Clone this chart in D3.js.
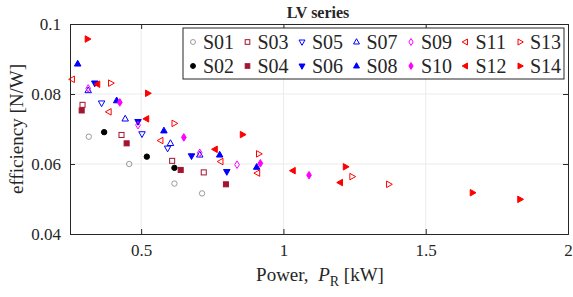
<!DOCTYPE html>
<html>
<head>
<meta charset="utf-8">
<script src="https://cdn.jsdelivr.net/npm/d3@7"></script>
<style>
  body { margin: 0; background: #fff; }
  text { font-family: "Liberation Serif", "Times New Roman", serif; fill: #262626; }
</style>
</head>
<body>
<svg id="chart" width="573" height="297"></svg>
<script>
// series names in legend order (column-major: S01,S02 / S03,S04 ...)
const seriesNames = ['S01','S02','S03','S04','S05','S06','S07','S08','S09','S10','S11','S12','S13','S14'];

// power [kW] and efficiency [N/W] per series
const S01 = [[0.316,0.0678],[0.458,0.0600],[0.617,0.0544],[0.714,0.0516]];
const S02 = [[0.370,0.0691],[0.520,0.0621],[0.617,0.0589]];
const S03 = [[0.294,0.0769],[0.431,0.0683],[0.609,0.0609],[0.720,0.0576]];
const S04 = [[0.291,0.0753],[0.449,0.0659],[0.639,0.0583],[0.798,0.0542]];
const S05 = [[0.361,0.0774],[0.503,0.0686],[0.593,0.0645]];
const S06 = [[0.337,0.0831],[0.489,0.0721],[0.677,0.0623],[0.801,0.0578]];
const S07 = [[0.314,0.0810],[0.444,0.0729],[0.603,0.0659],[0.706,0.0626]];
const S08 = [[0.277,0.0886],[0.414,0.0781],[0.580,0.0695],[0.776,0.0626],[0.906,0.0591]];
const S09 = [[0.314,0.0816],[0.489,0.0711],[0.706,0.0632],[0.837,0.0598]];
const S10 = [[0.425,0.0776],[0.650,0.0676],[0.919,0.0602],[1.090,0.0568]];
const S11 = [[0.258,0.0842],[0.387,0.0749],[0.569,0.0667],[0.780,0.0607],[0.909,0.0574]];
const S12 = [[0.347,0.0828],[0.519,0.0729],[0.760,0.0642],[1.034,0.0581],[1.200,0.0547]];
const S13 = [[0.393,0.0831],[0.616,0.0716],[0.913,0.0629],[1.241,0.0564],[1.370,0.0542]];
const S14 = [[0.311,0.0957],[0.523,0.0802],[0.856,0.0684],[1.218,0.0592],[1.664,0.0518],[1.831,0.0499]];

const seriesData = [S01,S02,S03,S04,S05,S06,S07,S08,S09,S10,S11,S12,S13,S14];

const xTicks = [0.5, 1, 1.5, 2];
const yTicks = [0.04, 0.06, 0.08, 0.1];

// marker style per series: [shape, filled, colour]
const styles = [
  ['circle', false, '#9a9a9a'], ['circle', true, '#000000'],
  ['square', false, '#a2142f'], ['square', true, '#a2142f'],
  ['down', false, '#0000ff'], ['down', true, '#0000ff'],
  ['up', false, '#0000ff'], ['up', true, '#0000ff'],
  ['diamond', false, '#ff00ff'], ['diamond', true, '#ff00ff'],
  ['left', false, '#ff0000'], ['left', true, '#ff0000'],
  ['right', false, '#ff0000'], ['right', true, '#ff0000']
];

const svg = d3.select('#chart');
const margin = { left: 70, top: 24, right: 5, bottom: 63 };
const W = 573 - margin.left - margin.right;
const H = 297 - margin.top - margin.bottom;

const x = d3.scaleLinear().domain([0.25, 2]).range([0, W]);
const y = d3.scaleLinear().domain([0.04, 0.1]).range([H, 0]);

const g = svg.append('g').attr('transform', `translate(${margin.left},${margin.top})`);

// grid
g.append('g').selectAll('line').data(xTicks.filter(t => t < 2)).enter().append('line')
  .attr('x1', d => x(d)).attr('x2', d => x(d)).attr('y1', 0).attr('y2', H)
  .attr('stroke', '#ebebeb').attr('stroke-width', 1);
g.append('g').selectAll('line').data(yTicks.filter(t => t > 0.04 && t < 0.1)).enter().append('line')
  .attr('y1', d => y(d)).attr('y2', d => y(d)).attr('x1', 0).attr('x2', W)
  .attr('stroke', '#ebebeb').attr('stroke-width', 1);

// axes (ticks inward)
const axB = g.append('g').attr('transform', `translate(0,${H})`)
  .call(d3.axisBottom(x).tickValues(xTicks).tickSize(-5).tickPadding(10).tickFormat(d => String(d)));
const axT = g.append('g').call(d3.axisTop(x).tickValues(xTicks).tickSize(-5).tickFormat(''));
const axL = g.append('g').call(d3.axisLeft(y).tickValues(yTicks).tickSize(-5).tickPadding(9).tickFormat(d => String(+d.toFixed(2))));
const axR = g.append('g').attr('transform', `translate(${W},0)`)
  .call(d3.axisRight(y).tickValues(yTicks).tickSize(-5).tickFormat(''));
[axB, axT, axL, axR].forEach(a => {
  a.selectAll('path.domain').attr('stroke', '#262626');
  a.selectAll('.tick line').attr('stroke', '#262626');
  a.selectAll('text').style('font-family', '"Liberation Serif", serif').style('font-size', '17px').attr('fill', '#262626');
});

// marker drawing
function marker(sel, st, s) {
  const [shape, filled, col] = st;
  const fill = filled ? col : 'none';
  let p;
  if (shape === 'circle') {
    p = sel.append('circle').attr('r', s * 0.45);
  } else if (shape === 'square') {
    const h = s * 0.42;
    p = sel.append('rect').attr('x', -h).attr('y', -h).attr('width', 2 * h).attr('height', 2 * h);
  } else {
    const a = s * 0.6;
    let pts;
    if (shape === 'up') pts = [[0,-a],[a*0.9,a*0.6],[-a*0.9,a*0.6]];
    if (shape === 'down') pts = [[0,a],[a*0.9,-a*0.6],[-a*0.9,-a*0.6]];
    if (shape === 'left') pts = [[-a,0],[a*0.6,-a*0.9],[a*0.6,a*0.9]];
    if (shape === 'right') pts = [[a,0],[-a*0.6,-a*0.9],[-a*0.6,a*0.9]];
    if (shape === 'diamond') pts = [[0,-a*1.05],[a*0.65,0],[0,a*1.05],[-a*0.65,0]];
    p = sel.append('polygon').attr('points', pts.map(q => q.join(',')).join(' '));
  }
  p.attr('fill', fill).attr('stroke', col).attr('stroke-width', 1);
}

// points
seriesData.forEach((data, i) => {
  g.append('g').selectAll('g').data(data).enter().append('g')
    .attr('transform', d => `translate(${x(d[0])},${y(d[1])})`)
    .each(function () { marker(d3.select(this), styles[i], 6); });
});

// legend
const leg = svg.append('g');
leg.append('rect').attr('x', 183).attr('y', 28).attr('width', 381).attr('height', 51)
  .attr('fill', '#fff').attr('stroke', '#262626').attr('stroke-width', 1);
seriesNames.forEach((name, i) => {
  const col = Math.floor(i / 2), row = i % 2;
  const lx = 193 + col * 54.5, ly = 42 + row * 24;
  const it = leg.append('g').attr('transform', `translate(${lx},${ly})`);
  marker(it, styles[i], 5.5);
  it.append('text').attr('x', 10).attr('y', 6.5).style('font-size', '20px').text(name);
});

// title
svg.append('text').attr('x', 318).attr('y', 18).attr('text-anchor', 'middle')
  .style('font-size', '16px').style('font-weight', 'bold').attr('fill', '#000').text('LV series');

// axis labels
svg.append('text').attr('transform', `translate(23,${margin.top + H / 2}) rotate(-90)`)
  .attr('text-anchor', 'middle').style('font-size', '19px').text('efficiency [N/W]');

const xl = svg.append('text').attr('x', 320).attr('y', 281).attr('text-anchor', 'middle').style('font-size', '19px');
xl.append('tspan').text('Power,\u00a0\u00a0');
xl.append('tspan').style('font-style', 'italic').text('P');
xl.append('tspan').attr('dy', 5).style('font-size', '14px').text('R');
xl.append('tspan').attr('dy', -5).text('\u00a0[kW]');
</script>
</body>
</html>
